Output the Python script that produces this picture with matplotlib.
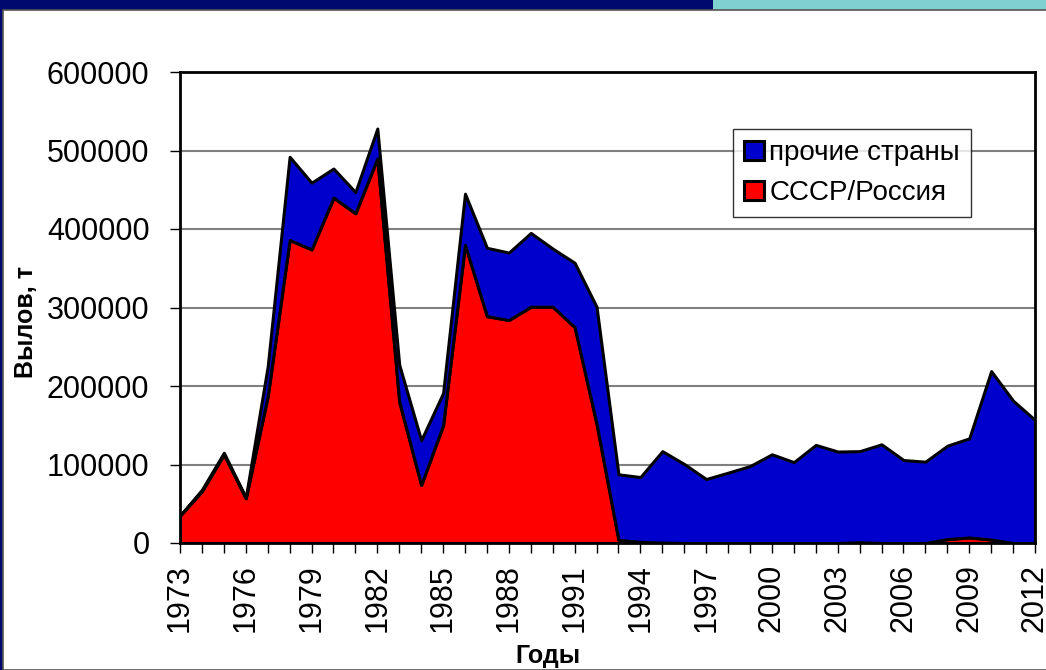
import matplotlib.pyplot as plt
from matplotlib.patches import Rectangle
import numpy as np

plt.rcParams['font.family'] = ['Liberation Sans', 'DejaVu Sans']

years = list(range(1973, 2013))
# улов СССР/России, т
russia = [35000, 66000, 113000, 57000, 187000, 386000, 374000, 440000, 420000, 490000,
          180000, 74000, 150000, 380000, 289000, 284000, 301000, 301000, 275000, 152000,
          4000, 1500, 500, 0, 0, 0, 0, 0, 0, 0,
          0, 1000, 0, 0, 0, 5000, 7000, 4500, 0, 0]
# прочие страны (сверху)
total = [35000, 68000, 115000, 58000, 225000, 492000, 459000, 477000, 447000, 528000,
         227000, 131000, 191000, 445000, 376000, 370000, 395000, 375000, 357000, 301000,
         87500, 84000, 117000, 100600, 81500, 89600, 98000, 113000, 103000, 125000,
         116500, 117000, 125700, 105700, 103600, 124000, 133300, 219000, 181300, 156700]
others = [t - r for t, r in zip(total, russia)]

yticks = [0, 100000, 200000, 300000, 400000, 500000, 600000]
xlabels = list(range(1973, 2013, 3))

fig = plt.figure(figsize=(10.46, 6.70), dpi=100)

# рамка слайда
fig.patches.append(Rectangle((0, 0), 1, 1, transform=fig.transFigure,
                             facecolor='#000a6e', edgecolor='none', zorder=-10))
fig.patches.append(Rectangle((713/1046, 660/670), 333/1046, 10/670, transform=fig.transFigure,
                             facecolor='#7fd0d0', edgecolor='none', zorder=-9))
fig.patches.append(Rectangle((3/1046, 0), 1, 660/670, transform=fig.transFigure,
                             facecolor='white', edgecolor='#555555', linewidth=1.2, zorder=-8))

ax = fig.add_axes([180/1046, 127/670, 855/1046, 471/670])
ax.set_facecolor('none')

ax.stackplot(years, russia, others, colors=['#ff0000', '#0000cc'],
             edgecolor='black', linewidth=2.2, labels=['СССР/Россия', 'прочие страны'],
             zorder=3)

ax.set_xlim(1973, 2012)
ax.set_ylim(0, 600000)
ax.set_yticks(yticks)
ax.set_yticklabels([str(v) for v in yticks], fontsize=22)
ax.set_xticks(years, minor=True)
ax.set_xticks(xlabels)
ax.set_xticklabels([str(v) for v in xlabels], rotation=90, fontsize=22)
ax.tick_params(axis='x', which='both', direction='out', length=7, width=1, pad=8)
ax.tick_params(axis='y', direction='out', length=7, width=1, pad=15)

ax.grid(axis='y', color='#808080', linewidth=1.5, zorder=1)
ax.set_axisbelow(True)
for s in ax.spines.values():
    s.set_linewidth(2)
    s.set_zorder(5)

ax.set_ylabel('Вылов, т', fontsize=18, fontweight='bold')
ax.yaxis.set_label_coords(-0.166, 0.47)
ax.set_xlabel('Годы', fontsize=18, fontweight='bold')
ax.xaxis.set_label_coords(0.43, -0.214)

h, l = ax.get_legend_handles_labels()
leg = ax.legend(h[::-1], l[::-1], loc='upper left', bbox_to_anchor=(0.647, 0.879),
                borderaxespad=0, fontsize=20, frameon=True, fancybox=False,
                edgecolor='black', handlelength=0.7, handleheight=0.7,
                handletextpad=0.2, labelspacing=0.5, borderpad=0.4)
leg.get_frame().set_linewidth(1)
leg.set_zorder(10)

plt.savefig('out.png', dpi=100)
